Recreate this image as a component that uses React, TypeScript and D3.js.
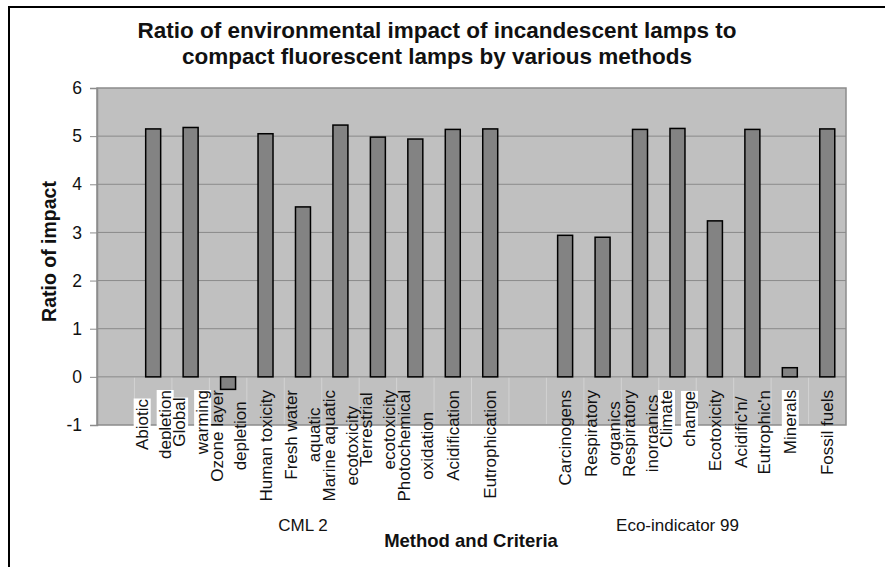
import { useRef, useEffect } from 'react';
import * as d3 from 'd3';

const methods = ['CML 2', 'Eco-indicator 99'];

const cmlCriteria = [
  'Abiotic\ndepletion',
  'Global\nwarming',
  'Ozone layer\ndepletion',
  'Human toxicity',
  'Fresh water\naquatic',
  'Marine aquatic\necotoxicity',
  'Terrestrial\necotoxicity',
  'Photochemical\noxidation',
  'Acidification',
  'Eutrophication',
];
const cmlValues = [5.15, 5.18, -0.26, 5.05, 3.53, 5.23, 4.98, 4.94, 5.14, 5.15];

const ecoCriteria = [
  'Carcinogens',
  'Respiratory\norganics',
  'Respiratory\ninorganics',
  'Climate\nchange',
  'Ecotoxicity',
  "Acidific'n/\nEutrophic'n",
  'Minerals',
  'Fossil fuels',
];
const ecoValues = [2.94, 2.9, 5.14, 5.16, 3.24, 5.14, 0.19, 5.15];

// labels drawn over a white box in the original
const whiteBacked = ['Abiotic\ndepletion', 'Global\nwarming', 'Climate\nchange', 'Minerals'];

const yTicks = [-1, 0, 1, 2, 3, 4, 5, 6];

const titleLines = [
  'Ratio of environmental impact of incandescent lamps to',
  'compact fluorescent lamps by various methods',
];

const W = 885;
const H = 567;
const plot = { left: 97, right: 846, top: 88, bottom: 425 };
const font = '"Liberation Sans", Arial, sans-serif';

interface Slot {
  key: string;
  method: string;
  label: string;
  value: number | null;
}

export default function App() {
  const svgRef = useRef<SVGSVGElement>(null);

  useEffect(() => {
    if (!svgRef.current) return;
    const svg = d3.select(svgRef.current);
    svg.selectAll('*').remove();

    const groups = [
      { method: methods[0], labels: cmlCriteria, values: cmlValues },
      { method: methods[1], labels: ecoCriteria, values: ecoValues },
    ];
    const slots: Slot[] = groups.flatMap((g) => [
      { key: `${g.method}-gap`, method: g.method, label: '', value: null },
      ...g.labels.map((l, i) => ({ key: l, method: g.method, label: l, value: g.values[i] })),
    ]);

    const x = d3
      .scaleBand<string>()
      .domain(slots.map((s) => s.key))
      .range([plot.left, plot.right])
      .paddingInner(0.6)
      .paddingOuter(0.3);
    const y = d3.scaleLinear().domain([-1, 6]).range([plot.bottom, plot.top]);
    const step = x.step();

    // outer frame (cropped: only left and top visible)
    svg
      .append('rect')
      .attr('x', 9)
      .attr('y', 7)
      .attr('width', W + 20)
      .attr('height', H + 20)
      .attr('fill', '#fff')
      .attr('stroke', '#000')
      .attr('stroke-width', 2);

    // title
    svg
      .append('text')
      .attr('x', 437)
      .attr('y', 38)
      .attr('text-anchor', 'middle')
      .attr('font-family', font)
      .attr('font-weight', 'bold')
      .attr('font-size', 22.5)
      .attr('fill', '#111')
      .selectAll('tspan')
      .data(titleLines)
      .join('tspan')
      .attr('x', 437)
      .attr('dy', (_, i) => (i === 0 ? 0 : 25.5))
      .text((d) => d);

    // plot area
    svg
      .append('rect')
      .attr('x', plot.left)
      .attr('y', plot.top)
      .attr('width', plot.right - plot.left)
      .attr('height', plot.bottom - plot.top)
      .attr('fill', '#c0c0c0')
      .attr('stroke', '#8c8c8c')
      .attr('stroke-width', 1.5);

    // gridlines
    svg
      .append('g')
      .selectAll('line')
      .data(yTicks.filter((t) => t > -1 && t < 6))
      .join('line')
      .attr('x1', plot.left)
      .attr('x2', plot.right)
      .attr('y1', (d) => y(d))
      .attr('y2', (d) => y(d))
      .attr('stroke', '#8a8a8a')
      .attr('stroke-width', 1);

    // faint slot separators below zero
    svg
      .append('g')
      .selectAll('line')
      .data(slots.slice(1))
      .join('line')
      .attr('x1', (d) => (x(d.key) ?? 0) - (step - x.bandwidth()) / 2)
      .attr('x2', (d) => (x(d.key) ?? 0) - (step - x.bandwidth()) / 2)
      .attr('y1', y(0) + 1)
      .attr('y2', y(-1) - 1)
      .attr('stroke', '#d2d2d2')
      .attr('stroke-width', 1);

    // y axis
    const yAxis = svg
      .append('g')
      .attr('transform', `translate(${plot.left},0)`)
      .call(
        d3
          .axisLeft(y)
          .tickValues(yTicks)
          .tickSize(7)
          .tickPadding(8)
          .tickFormat((d) => String(d)),
      );
    yAxis.select('.domain').attr('stroke', '#8c8c8c').attr('stroke-width', 1.5);
    yAxis.selectAll('.tick line').attr('stroke', '#8c8c8c');
    yAxis
      .selectAll('.tick text')
      .attr('font-family', font)
      .attr('font-size', 17.5)
      .attr('fill', '#111');

    svg
      .append('text')
      .attr('transform', `translate(56,${(plot.top + plot.bottom) / 2 - 5}) rotate(-90)`)
      .attr('text-anchor', 'middle')
      .attr('font-family', font)
      .attr('font-weight', 'bold')
      .attr('font-size', 19.5)
      .attr('fill', '#111')
      .text('Ratio of impact');

    // category labels (rotated, wrapped, block top at y=390)
    const lineH = 23;
    const labelTop = 390;
    slots
      .filter((s) => s.label)
      .forEach((s) => {
        const cx = (x(s.key) ?? 0) + x.bandwidth() / 2;
        const lines = s.label.split('\n');
        const g = svg.append('g').attr('transform', `translate(${cx},0) rotate(-90)`);
        const texts = lines.map((l, i) =>
          g
            .append('text')
            .attr('text-anchor', 'middle')
            .attr('font-family', font)
            .attr('font-size', 17)
            .attr('fill', '#111')
            .attr('y', (i - (lines.length - 1) / 2) * lineH + 6)
            .text(l),
        );
        const maxLen = d3.max(texts, (t) => (t.node() as SVGTextElement).getComputedTextLength()) ?? 0;
        texts.forEach((t) => t.attr('x', -(labelTop + maxLen / 2)));
        if (whiteBacked.includes(s.label)) {
          texts.forEach((t) => {
            const b = (t.node() as SVGTextElement).getBBox();
            g.insert('rect', 'text')
              .attr('x', b.x)
              .attr('y', b.y + 1)
              .attr('width', b.width)
              .attr('height', b.height - 2)
              .attr('fill', '#fff');
          });
        }
      });

    // bars
    svg
      .append('g')
      .selectAll('rect')
      .data(slots.filter((s) => s.value !== null))
      .join('rect')
      .attr('x', (d) => x(d.key) ?? 0)
      .attr('width', x.bandwidth())
      .attr('y', (d) => y(Math.max(0, d.value as number)))
      .attr('height', (d) => Math.abs(y(d.value as number) - y(0)))
      .attr('fill', '#838383')
      .attr('stroke', '#000')
      .attr('stroke-width', 1.5);

    // method group labels
    methods.forEach((m) => {
      const ms = slots.filter((s) => s.method === m);
      const x0 = (x(ms[0].key) ?? 0) - (step - x.bandwidth()) / 2;
      const x1 = x0 + step * ms.length;
      svg
        .append('text')
        .attr('x', (x0 + x1) / 2)
        .attr('y', 531)
        .attr('text-anchor', 'middle')
        .attr('font-family', font)
        .attr('font-size', 17)
        .attr('fill', '#111')
        .text(m);
    });

    svg
      .append('text')
      .attr('x', 471)
      .attr('y', 547)
      .attr('text-anchor', 'middle')
      .attr('font-family', font)
      .attr('font-weight', 'bold')
      .attr('font-size', 18.5)
      .attr('fill', '#111')
      .text('Method and Criteria');
  }, []);

  return (
    <svg
      ref={svgRef}
      width={W}
      height={H}
      viewBox={`0 0 ${W} ${H}`}
      style={{ position: 'absolute', left: 0, top: 0, display: 'block', background: '#fff' }}
    />
  );
}
